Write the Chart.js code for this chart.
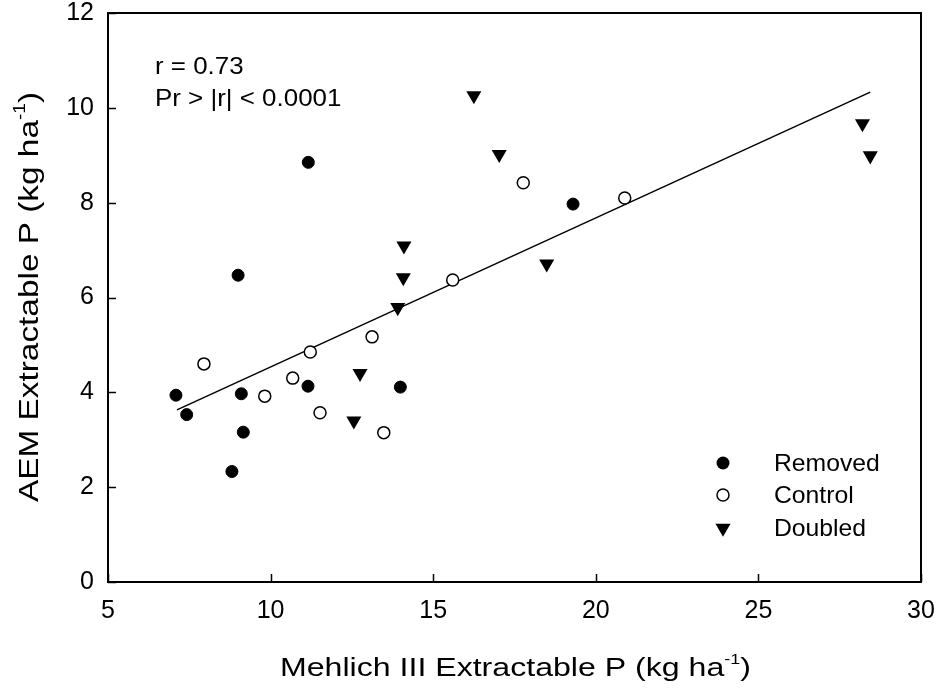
<!DOCTYPE html>
<html>
<head>
<meta charset="utf-8">
<script src="https://cdn.jsdelivr.net/npm/chart.js@4.4.1/dist/chart.umd.min.js"></script>
<style>
  html, body { margin: 0; padding: 0; background: #fff; }
  #wrap { position: relative; width: 939px; height: 690px; }
</style>
</head>
<body>
<div id="wrap"><canvas id="pChart"></canvas></div>
<script>
// Mehlich III (x) vs AEM (y) extractable P, kg/ha
const removedX = [7.09, 7.42, 9.10, 9.16, 8.81, 11.15, 13.99, 9.00, 11.16, 19.30];
const removedY = [3.94, 3.53, 3.97, 3.16, 2.33, 4.13, 4.11, 6.47, 8.85, 7.97];

const controlX = [7.95, 9.82, 10.68, 11.22, 11.52, 13.12, 13.48, 15.60, 17.77, 20.89];
const controlY = [4.60, 3.92, 4.30, 4.85, 3.57, 5.17, 3.15, 6.37, 8.42, 8.10];

const doubledX = [16.25, 17.03, 18.49, 28.20, 28.44, 14.10, 14.08, 13.91, 12.75, 12.56];
const doubledY = [10.26, 9.02, 6.71, 9.67, 8.99, 7.09, 6.42, 5.79, 4.40, 3.40];

// regression line end points
const fitX = [7.12, 28.44];
const fitY = [3.63, 10.33];

const xTicks = [5, 10, 15, 20, 25, 30];
const yTicks = [0, 2, 4, 6, 8, 10, 12];

const statLines = ['r = 0.73', 'Pr > |r| < 0.0001'];
const seriesNames = ['Removed', 'Control', 'Doubled'];

const FONT = '"Liberation Sans", Arial, Helvetica, sans-serif';

function pts(xs, ys) {
  return xs.map((x, i) => ({ x: x, y: ys[i] }));
}

// plain text, slightly widened like the rest of the figure
function drawWide(ctx, txt, x, y, sx) {
  ctx.save();
  ctx.translate(x, y);
  ctx.scale(sx, 1);
  ctx.fillText(txt, 0, 0);
  ctx.restore();
}

// title with a "-1" superscript, stretched to a given length
function drawSupTitle(ctx, main, sup, tail, size, x, y, angle, len) {
  ctx.save();
  ctx.fillStyle = '#000';
  ctx.textBaseline = 'alphabetic';
  ctx.textAlign = 'left';
  ctx.font = size + 'px ' + FONT;
  const w1 = ctx.measureText(main).width;
  const w3 = ctx.measureText(tail).width;
  const supSize = Math.round(size * 0.58);
  ctx.font = supSize + 'px ' + FONT;
  const w2 = ctx.measureText(sup).width;
  const s = len / (w1 + w2 + w3);
  ctx.translate(x, y);
  ctx.rotate(angle);
  ctx.scale(s, 1);
  ctx.font = size + 'px ' + FONT;
  ctx.fillText(main, 0, 0);
  ctx.font = supSize + 'px ' + FONT;
  ctx.fillText(sup, w1, -size * 0.47);
  ctx.font = size + 'px ' + FONT;
  ctx.fillText(tail, w1 + w2, 0);
  ctx.restore();
}

function drawMarker(ctx, kind, x, y) {
  ctx.save();
  ctx.fillStyle = '#000';
  ctx.strokeStyle = '#000';
  if (kind === 0) {
    ctx.beginPath();
    ctx.arc(x, y, 6.5, 0, Math.PI * 2);
    ctx.fill();
  } else if (kind === 1) {
    ctx.lineWidth = 1.5;
    ctx.fillStyle = '#fff';
    ctx.beginPath();
    ctx.arc(x, y, 6, 0, Math.PI * 2);
    ctx.fill();
    ctx.stroke();
  } else {
    const r = 8.7;
    ctx.beginPath();
    ctx.moveTo(x - r * 0.866, y - r * 0.5);
    ctx.lineTo(x + r * 0.866, y - r * 0.5);
    ctx.lineTo(x, y + r);
    ctx.closePath();
    ctx.fill();
  }
  ctx.restore();
}

const framePlugin = {
  id: 'frame',
  afterDraw(chart) {
    const ctx = chart.ctx;
    const a = chart.chartArea;
    const xs = chart.scales.x;
    const ys = chart.scales.y;

    ctx.save();
    ctx.strokeStyle = '#000';
    ctx.lineWidth = 2;
    ctx.strokeRect(a.left, a.top, a.right - a.left, a.bottom - a.top);

    // inward tick marks on left and bottom
    ctx.lineWidth = 1.5;
    ctx.beginPath();
    xTicks.forEach(v => {
      const px = Math.round(xs.getPixelForValue(v)) + 0.5;
      ctx.moveTo(px, a.bottom);
      ctx.lineTo(px, a.bottom - 8);
    });
    yTicks.forEach(v => {
      const py = Math.round(ys.getPixelForValue(v)) + 0.5;
      ctx.moveTo(a.left, py);
      ctx.lineTo(a.left + 8, py);
    });
    ctx.stroke();

    // r and p value
    ctx.fillStyle = '#000';
    ctx.font = '24px ' + FONT;
    ctx.textAlign = 'left';
    ctx.textBaseline = 'alphabetic';
    drawWide(ctx, statLines[0], 155, 74, 1.08);
    drawWide(ctx, statLines[1], 155, 106, 1.08);

    // legend
    const legY = [463, 495, 528];
    seriesNames.forEach((name, i) => {
      drawMarker(ctx, i, 723, legY[i]);
      ctx.textBaseline = 'middle';
      drawWide(ctx, name, 774, legY[i] + 1, 1.03);
    });
    ctx.restore();

    // axis titles
    drawSupTitle(ctx, 'Mehlich III Extractable P (kg ha', '-1', ')', 25, 280, 676, 0, 471);
    drawSupTitle(ctx, 'AEM Extractable P (kg ha', '-1', ')', 28, 38, 502, -Math.PI / 2, 410);
  }
};

Chart.defaults.font.family = FONT;
Chart.defaults.color = '#000';

new Chart(document.getElementById('pChart'), {
  type: 'scatter',
  data: {
    datasets: [
      {
        label: seriesNames[0],
        data: pts(removedX, removedY),
        pointStyle: 'circle',
        pointRadius: 6,
        pointBorderWidth: 1,
        backgroundColor: '#000',
        borderColor: '#000'
      },
      {
        label: seriesNames[1],
        data: pts(controlX, controlY),
        pointStyle: 'circle',
        pointRadius: 6,
        pointBorderWidth: 1.5,
        backgroundColor: '#fff',
        borderColor: '#000'
      },
      {
        label: seriesNames[2],
        data: pts(doubledX, doubledY),
        pointStyle: 'triangle',
        rotation: 180,
        pointRadius: 8.7,
        pointBorderWidth: 0,
        backgroundColor: '#000',
        borderColor: '#000'
      },
      {
        label: 'fit',
        data: pts(fitX, fitY),
        showLine: true,
        pointRadius: 0,
        borderColor: '#000',
        borderWidth: 1.5,
        order: 5
      }
    ]
  },
  options: {
    responsive: true,
    maintainAspectRatio: false,
    animation: false,
    events: [],
    layout: { padding: { top: 13, right: 18, left: 0, bottom: 0 } },
    plugins: {
      legend: { display: false },
      tooltip: { enabled: false }
    },
    scales: {
      x: {
        type: 'linear',
        min: 5,
        max: 30,
        grid: { display: false, drawTicks: false },
        border: { display: false },
        ticks: {
          stepSize: 5,
          padding: 17,
          maxRotation: 0,
          font: { size: 25, lineHeight: 1 },
          color: '#000'
        },
        afterFit(scale) {
          scale.height = 108;
          scale.paddingLeft = 0;
          scale.paddingRight = 0;
        }
      },
      y: {
        type: 'linear',
        min: 0,
        max: 12,
        grid: { display: false, drawTicks: false },
        border: { display: false },
        ticks: {
          stepSize: 2,
          padding: 14,
          font: { size: 25, lineHeight: 1 },
          color: '#000'
        },
        afterFit(scale) {
          scale.width = 108;
          scale.paddingTop = 0;
          scale.paddingBottom = 0;
        }
      }
    }
  },
  plugins: [framePlugin]
});
</script>
</body>
</html>
